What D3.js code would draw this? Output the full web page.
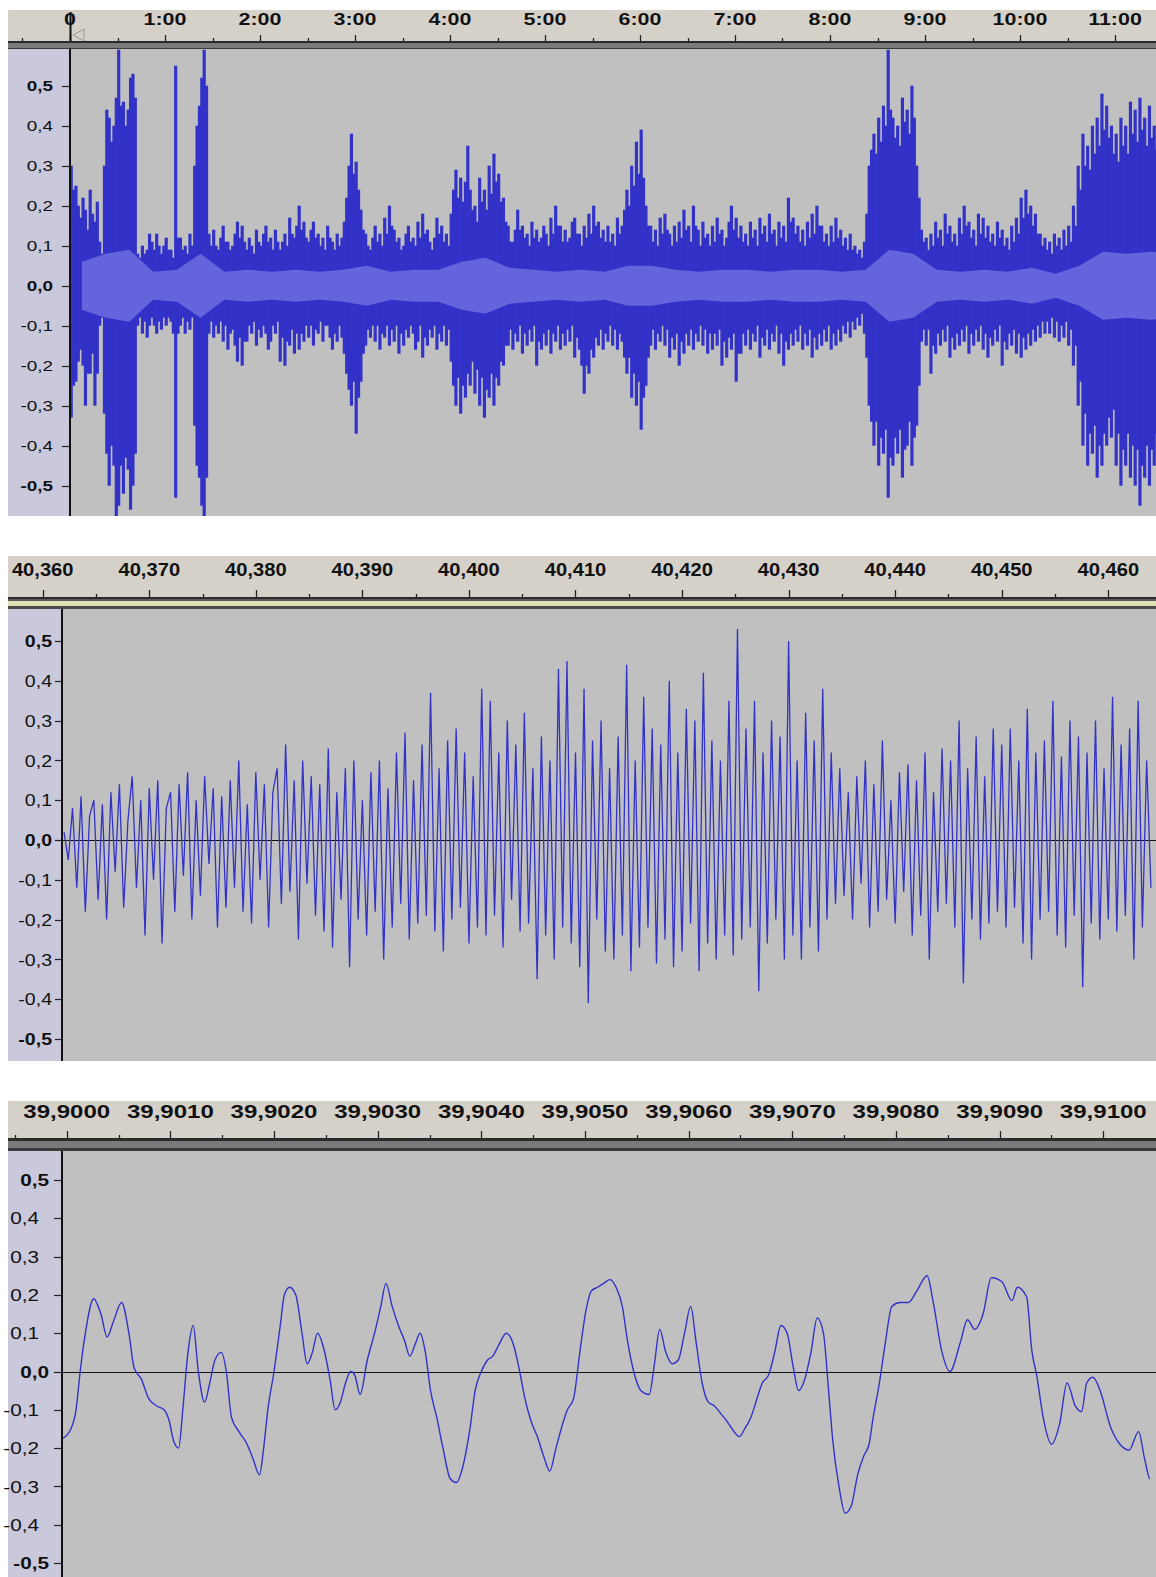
<!DOCTYPE html>
<html><head><meta charset="utf-8">
<script src="https://cdn.jsdelivr.net/npm/d3@7"></script>
<style>body{margin:0;background:#fff}svg{display:block}</style>
</head><body>
<svg id="c" width="1156" height="1577"></svg>
<script>
// ---------------- DATA ----------------
const yTickValues = [0.5,0.4,0.3,0.2,0.1,0,-0.1,-0.2,-0.3,-0.4,-0.5];
const yTickLabels = ["0,5","0,4","0,3","0,2","0,1","0,0","-0,1","-0,2","-0,3","-0,4","-0,5"];
const yBoldLabels = ["0,5","0,0","-0,5"];

// Panel 1 : whole recording, time in seconds; peak envelope per 1.5 s bucket
const p1TickSeconds = [0,60,120,180,240,300,360,420,480,540,600,660];
const p1TickLabels = ["0","1:00","2:00","3:00","4:00","5:00","6:00","7:00","8:00","9:00","10:00","11:00"];
const p1BucketSeconds = 1.5;
const p1Max = [
0.30,0.24,0.25,0.20,0.17,0.22,0.19,0.14,0.24,0.18,0.16,0.21,0.11,0.08,0.30,0.44,0.42,0.36,0.40,0.47,
0.59,0.45,0.46,0.40,0.44,0.52,0.53,0.47,0.08,0.07,0.10,0.08,0.09,0.13,0.11,0.09,0.13,0.10,0.08,0.10,
0.12,0.09,0.09,0.07,0.55,0.12,0.12,0.09,0.10,0.08,0.13,0.10,0.30,0.40,0.45,0.52,0.59,0.50,0.13,0.10,
0.14,0.10,0.09,0.12,0.15,0.11,0.11,0.09,0.10,0.13,0.16,0.12,0.15,0.11,0.09,0.12,0.10,0.08,0.14,0.11,
0.10,0.13,0.15,0.11,0.12,0.09,0.14,0.11,0.09,0.11,0.13,0.10,0.17,0.13,0.12,0.15,0.20,0.14,0.16,0.12,
0.11,0.14,0.16,0.12,0.13,0.10,0.12,0.09,0.15,0.12,0.11,0.09,0.13,0.10,0.12,0.16,0.22,0.30,0.38,0.28,
0.31,0.24,0.19,0.14,0.13,0.10,0.09,0.12,0.15,0.11,0.13,0.10,0.17,0.13,0.20,0.15,0.14,0.11,0.12,0.09,
0.10,0.13,0.15,0.11,0.12,0.10,0.16,0.12,0.18,0.13,0.14,0.11,0.09,0.12,0.17,0.13,0.15,0.11,0.13,0.10,
0.18,0.24,0.29,0.22,0.27,0.21,0.26,0.35,0.24,0.19,0.20,0.16,0.27,0.21,0.24,0.19,0.30,0.23,0.33,0.26,
0.28,0.21,0.22,0.16,0.15,0.11,0.11,0.14,0.19,0.14,0.15,0.12,0.13,0.10,0.16,0.12,0.14,0.11,0.12,0.15,
0.13,0.10,0.17,0.13,0.20,0.15,0.15,0.11,0.14,0.11,0.12,0.16,0.17,0.13,0.13,0.10,0.15,0.12,0.18,0.13,
0.20,0.15,0.16,0.12,0.14,0.11,0.15,0.11,0.13,0.10,0.17,0.13,0.15,0.19,0.24,0.20,0.30,0.25,0.36,0.28,
0.39,0.27,0.20,0.15,0.15,0.11,0.14,0.10,0.17,0.13,0.18,0.14,0.13,0.10,0.15,0.11,0.16,0.12,0.19,0.14,
0.15,0.11,0.20,0.15,0.14,0.10,0.16,0.12,0.13,0.10,0.15,0.11,0.17,0.13,0.14,0.10,0.12,0.16,0.20,0.14,
0.17,0.12,0.15,0.11,0.13,0.10,0.16,0.12,0.14,0.10,0.17,0.13,0.15,0.11,0.18,0.13,0.14,0.10,0.16,0.12,
0.15,0.11,0.22,0.16,0.17,0.13,0.15,0.11,0.14,0.10,0.16,0.12,0.18,0.13,0.20,0.15,0.15,0.11,0.13,0.10,
0.15,0.11,0.17,0.12,0.14,0.10,0.12,0.09,0.13,0.09,0.10,0.08,0.09,0.07,0.11,0.18,0.30,0.34,0.38,0.33,
0.42,0.36,0.45,0.40,0.59,0.44,0.42,0.37,0.40,0.35,0.47,0.41,0.44,0.38,0.50,0.42,0.30,0.22,0.14,0.11,
0.12,0.09,0.13,0.10,0.16,0.12,0.14,0.10,0.18,0.13,0.15,0.11,0.13,0.10,0.17,0.13,0.20,0.15,0.16,0.12,
0.14,0.10,0.18,0.13,0.17,0.12,0.15,0.11,0.13,0.10,0.16,0.12,0.14,0.10,0.12,0.09,0.15,0.11,0.17,0.13,
0.22,0.17,0.24,0.18,0.20,0.15,0.18,0.13,0.13,0.10,0.12,0.09,0.11,0.08,0.13,0.10,0.12,0.09,0.14,0.10,
0.15,0.11,0.20,0.15,0.30,0.24,0.38,0.30,0.35,0.29,0.40,0.33,0.42,0.35,0.48,0.39,0.45,0.37,0.40,0.33,
0.38,0.31,0.42,0.35,0.40,0.33,0.46,0.38,0.44,0.36,0.47,0.39,0.42,0.35,0.45,0.37,0.40,0.34];
const p1Min = [
-0.33,-0.25,-0.24,-0.19,-0.16,-0.20,-0.30,-0.22,-0.22,-0.17,-0.30,-0.22,-0.10,-0.08,-0.32,-0.42,-0.50,-0.40,-0.45,-0.58,
-0.55,-0.45,-0.52,-0.43,-0.46,-0.56,-0.50,-0.42,-0.10,-0.08,-0.12,-0.09,-0.13,-0.10,-0.08,-0.10,-0.12,-0.09,-0.11,-0.08,
-0.10,-0.08,-0.09,-0.12,-0.53,-0.12,-0.10,-0.08,-0.12,-0.09,-0.11,-0.08,-0.35,-0.45,-0.48,-0.55,-0.58,-0.48,-0.12,-0.09,
-0.13,-0.10,-0.12,-0.09,-0.14,-0.10,-0.16,-0.12,-0.11,-0.15,-0.19,-0.13,-0.20,-0.14,-0.14,-0.10,-0.12,-0.09,-0.15,-0.11,
-0.13,-0.10,-0.12,-0.16,-0.14,-0.10,-0.12,-0.09,-0.19,-0.13,-0.20,-0.14,-0.15,-0.11,-0.17,-0.12,-0.16,-0.12,-0.14,-0.10,
-0.13,-0.10,-0.15,-0.11,-0.12,-0.09,-0.14,-0.10,-0.10,-0.13,-0.16,-0.12,-0.14,-0.10,-0.13,-0.17,-0.22,-0.26,-0.30,-0.24,
-0.37,-0.28,-0.24,-0.17,-0.15,-0.11,-0.13,-0.10,-0.14,-0.10,-0.16,-0.12,-0.13,-0.10,-0.15,-0.11,-0.14,-0.10,-0.17,-0.12,
-0.15,-0.11,-0.13,-0.10,-0.12,-0.16,-0.14,-0.10,-0.18,-0.13,-0.15,-0.11,-0.13,-0.10,-0.16,-0.12,-0.14,-0.10,-0.15,-0.11,
-0.19,-0.25,-0.30,-0.23,-0.32,-0.25,-0.28,-0.22,-0.25,-0.19,-0.27,-0.21,-0.30,-0.23,-0.33,-0.26,-0.28,-0.22,-0.30,-0.23,
-0.25,-0.19,-0.20,-0.15,-0.15,-0.11,-0.16,-0.12,-0.14,-0.10,-0.17,-0.12,-0.15,-0.11,-0.14,-0.10,-0.20,-0.14,-0.16,-0.12,
-0.15,-0.11,-0.17,-0.12,-0.14,-0.10,-0.16,-0.12,-0.15,-0.11,-0.14,-0.10,-0.18,-0.13,-0.16,-0.20,-0.27,-0.20,-0.22,-0.16,
-0.18,-0.13,-0.15,-0.11,-0.16,-0.12,-0.14,-0.10,-0.15,-0.11,-0.16,-0.12,-0.14,-0.18,-0.22,-0.18,-0.28,-0.22,-0.30,-0.24,
-0.36,-0.28,-0.25,-0.18,-0.15,-0.11,-0.16,-0.12,-0.14,-0.10,-0.15,-0.11,-0.18,-0.13,-0.16,-0.12,-0.20,-0.14,-0.17,-0.12,
-0.15,-0.11,-0.16,-0.12,-0.14,-0.10,-0.15,-0.11,-0.17,-0.12,-0.16,-0.12,-0.15,-0.11,-0.20,-0.14,-0.18,-0.13,-0.16,-0.12,
-0.24,-0.17,-0.17,-0.12,-0.15,-0.11,-0.16,-0.12,-0.14,-0.10,-0.18,-0.13,-0.15,-0.11,-0.16,-0.12,-0.14,-0.10,-0.17,-0.12,
-0.20,-0.14,-0.16,-0.12,-0.15,-0.11,-0.14,-0.10,-0.16,-0.12,-0.15,-0.11,-0.18,-0.13,-0.16,-0.12,-0.15,-0.11,-0.14,-0.10,
-0.16,-0.12,-0.15,-0.11,-0.14,-0.10,-0.12,-0.09,-0.13,-0.09,-0.11,-0.08,-0.10,-0.07,-0.12,-0.18,-0.30,-0.34,-0.40,-0.34,
-0.45,-0.38,-0.42,-0.36,-0.53,-0.43,-0.45,-0.38,-0.42,-0.36,-0.48,-0.41,-0.40,-0.34,-0.45,-0.38,-0.35,-0.25,-0.14,-0.11,
-0.15,-0.11,-0.22,-0.15,-0.17,-0.12,-0.15,-0.11,-0.14,-0.10,-0.18,-0.13,-0.16,-0.12,-0.15,-0.11,-0.14,-0.10,-0.17,-0.12,
-0.15,-0.11,-0.14,-0.10,-0.16,-0.12,-0.18,-0.13,-0.15,-0.11,-0.14,-0.10,-0.20,-0.14,-0.16,-0.12,-0.15,-0.11,-0.17,-0.12,
-0.18,-0.13,-0.16,-0.12,-0.15,-0.11,-0.14,-0.10,-0.13,-0.09,-0.12,-0.09,-0.12,-0.08,-0.13,-0.09,-0.14,-0.10,-0.13,-0.09,
-0.15,-0.11,-0.20,-0.15,-0.30,-0.24,-0.40,-0.32,-0.45,-0.37,-0.42,-0.35,-0.48,-0.40,-0.45,-0.37,-0.40,-0.33,-0.38,-0.31,
-0.45,-0.37,-0.50,-0.41,-0.45,-0.37,-0.48,-0.40,-0.50,-0.41,-0.55,-0.45,-0.48,-0.40,-0.50,-0.41,-0.45,-0.37];
const p1RmsBucketSeconds = 15;
const p1Rms = [0.06,0.08,0.09,0.035,0.04,0.08,0.035,0.04,0.035,0.04,0.035,0.04,0.05,0.035,0.04,0.04,
0.06,0.07,0.045,0.04,0.035,0.04,0.035,0.05,0.05,0.04,0.035,0.04,0.04,0.035,0.04,0.04,0.035,
0.04,0.09,0.08,0.04,0.035,0.04,0.035,0.045,0.03,0.05,0.085,0.08,0.085,0.08];

// Panel 2 : ~0.1 s zoom, time in seconds
const p2TickTimes = [40.36,40.37,40.38,40.39,40.40,40.41,40.42,40.43,40.44,40.45,40.46];
const p2TickLabels = ["40,360","40,370","40,380","40,390","40,400","40,410","40,420","40,430","40,440","40,450","40,460"];
const p2StartTime = 40.362;
const p2SampleStep = 0.0004;
const p2Values = [
0.02,-0.05,0.08,-0.12,0.11,-0.18,0.06,0.10,-0.15,0.09,
-0.20,0.12,-0.08,0.14,-0.17,0.05,0.16,-0.12,0.10,-0.24,
0.13,-0.10,0.15,-0.26,0.08,0.12,-0.18,0.14,-0.09,0.17,
-0.20,0.10,-0.14,0.16,-0.06,0.13,-0.22,0.11,-0.17,0.15,
-0.12,0.20,-0.18,0.09,-0.21,0.17,-0.10,0.14,-0.22,0.12,
0.18,-0.16,0.24,-0.13,0.15,-0.25,0.20,-0.11,0.16,-0.19,
0.14,-0.23,0.23,-0.27,0.12,-0.15,0.18,-0.32,0.20,-0.20,
0.10,-0.24,0.17,-0.18,0.20,-0.30,0.13,-0.22,0.22,-0.16,
0.27,-0.25,0.15,-0.21,0.24,-0.19,0.37,-0.23,0.18,-0.28,
0.25,-0.20,0.28,-0.17,0.22,-0.26,0.16,-0.22,0.38,-0.24,
0.35,-0.19,0.22,-0.27,0.30,-0.15,0.24,-0.23,0.32,-0.21,
0.18,-0.35,0.26,-0.24,0.20,-0.30,0.43,-0.22,0.45,-0.26,
0.22,-0.32,0.38,-0.41,0.25,-0.20,0.30,-0.28,0.18,-0.30,
0.26,-0.24,0.44,-0.33,0.20,-0.27,0.36,-0.22,0.28,-0.31,
0.24,-0.25,0.40,-0.32,0.22,-0.28,0.33,-0.21,0.30,-0.33,
0.42,-0.26,0.25,-0.30,0.20,-0.24,0.35,-0.29,0.53,-0.25,
0.28,-0.22,0.35,-0.38,0.22,-0.26,0.30,-0.20,0.26,-0.30,
0.50,-0.24,0.20,-0.30,0.32,-0.22,0.25,-0.28,0.38,-0.20,
0.22,-0.16,0.18,-0.14,0.12,-0.20,0.16,-0.11,0.20,-0.22,
0.14,-0.18,0.25,-0.15,0.10,-0.21,0.17,-0.13,0.19,-0.24,
0.15,-0.19,0.22,-0.30,0.12,-0.18,0.23,-0.16,0.20,-0.22,
0.30,-0.36,0.18,-0.20,0.26,-0.25,0.16,-0.21,0.28,-0.18,
0.24,-0.22,0.28,-0.17,0.20,-0.26,0.33,-0.30,0.22,-0.20,
0.25,-0.18,0.35,-0.24,0.21,-0.27,0.30,-0.19,0.26,-0.37,
0.22,-0.21,0.30,-0.25,0.18,-0.20,0.36,-0.23,0.24,-0.19,
0.28,-0.30,0.35,-0.22,0.20,-0.12];

// Panel 3 : ~0.01 s zoom; time offset in units of 10 microseconds after 39.9 s
const p3TickTimes = [39.900,39.901,39.902,39.903,39.904,39.905,39.906,39.907,39.908,39.909,39.910];
const p3TickLabels = ["39,9000","39,9010","39,9020","39,9030","39,9040","39,9050","39,9060","39,9070","39,9080","39,9090","39,9100"];
const p3Offset = [-4,4,9,13,18,26,33,39,45,53,60,65,72,79,87,94,99,103,108,112,117,122,127,133,138,143,149,154,159,167,174,180,186,190,194,200,206,210,215,221,227,232,237,242,248,254,259,264,269,274,278,283,290,297,303,308,314,320,326,331,336,341,346,351,357,363,370,376,382,389,394,400,406,411,417,424,431,437,442,448,454,460,466,472,477,483,489,495,501,506,512,518,524,530,536,541,547,554,562,567,572,578,584,590,596,602,607,613,619,625,631,637,642,649,654,660,666,671,677,683,689,695,701,706,712,718,724,730,735,739,745,751,757,763,769,774,778,784,790,796,804,812,820,830,836,844,852,862,869,876,884,892,902,912,917,926,931,936,942,950,958,965,973,979,984,990,997,1007,1016,1025,1034,1040,1045];
const p3Values = [-0.175,-0.15,-0.10,0.0,0.10,0.19,0.15,0.09,0.13,0.18,0.10,0.01,-0.02,-0.07,-0.09,-0.10,-0.13,-0.18,-0.20,-0.10,0.05,0.12,0.0,-0.08,-0.03,0.03,0.05,0.0,-0.12,-0.16,-0.19,-0.23,-0.27,-0.20,-0.10,0.0,0.12,0.20,0.22,0.20,0.10,0.02,0.05,0.10,0.06,-0.02,-0.10,-0.08,-0.03,0.0,-0.01,-0.06,0.03,0.10,0.17,0.23,0.17,0.12,0.08,0.04,0.07,0.10,0.05,-0.05,-0.12,-0.20,-0.28,-0.29,-0.25,-0.15,-0.05,0.0,0.03,0.04,0.07,0.10,0.07,0.0,-0.07,-0.13,-0.17,-0.22,-0.26,-0.20,-0.15,-0.10,-0.07,0.05,0.16,0.21,0.22,0.23,0.24,0.22,0.17,0.08,0.0,-0.05,-0.06,0.02,0.11,0.05,0.02,0.03,0.10,0.17,0.08,-0.03,-0.08,-0.09,-0.11,-0.13,-0.15,-0.17,-0.15,-0.12,-0.07,-0.03,-0.01,0.05,0.12,0.10,0.01,-0.05,-0.02,0.05,0.14,0.10,-0.05,-0.18,-0.30,-0.37,-0.35,-0.27,-0.22,-0.19,-0.12,-0.03,0.08,0.17,0.18,0.18,0.21,0.25,0.18,0.055,0.0,0.075,0.135,0.11,0.15,0.245,0.235,0.185,0.22,0.195,0.056,-0.014,-0.12,-0.19,-0.135,-0.03,-0.09,-0.105,-0.03,-0.015,-0.05,-0.145,-0.19,-0.205,-0.157,-0.23,-0.28,-0.21];

// ---------------- DRAWING ----------------
const svg = d3.select("#c");
const FONT = "'Liberation Sans', Arial, sans-serif";
const BLUE = "#3232c8", RMS = "#6464dc", PLOT_BG = "#c0c0c0", LABEL_BG = "#c9c9db", RULER_BG = "#d5d1c9";

function drawPanel(cfg) {
  const g = svg.append("g");
  g.append("rect").attr("x", 8).attr("y", cfg.rulerY0).attr("width", 1148).attr("height", cfg.rulerY1 - cfg.rulerY0).attr("fill", RULER_BG);
  cfg.bands.forEach(b => g.append("rect").attr("x", 8).attr("y", b[0]).attr("width", 1148).attr("height", b[1] - b[0]).attr("fill", b[2]));
  g.append("rect").attr("x", 8).attr("y", cfg.plotY0).attr("width", cfg.axisX - 8).attr("height", cfg.plotY1 - cfg.plotY0).attr("fill", LABEL_BG);
  g.append("rect").attr("x", cfg.axisX).attr("y", cfg.plotY0).attr("width", 1156 - cfg.axisX).attr("height", cfg.plotY1 - cfg.plotY0).attr("fill", PLOT_BG);

  const x = cfg.x;
  cfg.minor.forEach(t => {
    const px = Math.round(x(t)) + 0.5;
    if (px < 9 || px > 1155) return;
    g.append("line").attr("x1", px).attr("x2", px).attr("y1", cfg.rulerY1 - cfg.minorLen).attr("y2", cfg.rulerY1).attr("stroke", "#222").attr("stroke-width", 1.3);
  });
  cfg.ticks.forEach((t, i) => {
    const px = Math.round(x(t)) + 0.5;
    g.append("line").attr("x1", px).attr("x2", px).attr("y1", cfg.rulerY1 - cfg.majorLen).attr("y2", cfg.rulerY1).attr("stroke", "#222").attr("stroke-width", 1.3);
    g.append("text").attr("transform", `translate(${x(t)},${cfg.labelBaseline}) scale(${cfg.sx},1)`)
      .attr("text-anchor", "middle").attr("font-family", FONT).attr("font-weight", "bold")
      .attr("font-size", cfg.fontSize).attr("fill", "#111").text(cfg.tickLabels[i]);
  });

  const y = cfg.y;
  yTickValues.forEach((v, i) => {
    const py = Math.round(y(v)) + 0.5;
    g.append("line").attr("x1", cfg.axisX - cfg.yTickLen).attr("x2", cfg.axisX).attr("y1", py).attr("y2", py).attr("stroke", "#222").attr("stroke-width", 1.2);
    const lab = yTickLabels[i];
    const bold = yBoldLabels.includes(lab);
    g.append("text").attr("transform", `translate(${bold ? cfg.yLabelRight : cfg.yLabelRightNormal},${y(v) + cfg.yFont * 0.36}) scale(${cfg.ysx},1)`)
      .attr("text-anchor", "end").attr("font-family", FONT)
      .attr("font-weight", bold ? "bold" : "normal")
      .attr("font-size", cfg.yFont).attr("fill", "#111").text(lab);
  });

  const clipId = "clip" + cfg.id;
  svg.append("clipPath").attr("id", clipId).append("rect")
    .attr("x", cfg.axisX + 2).attr("y", cfg.plotY0).attr("width", 1156 - cfg.axisX - 2).attr("height", cfg.plotY1 - cfg.plotY0);
  const plot = g.append("g").attr("clip-path", `url(#${clipId})`);
  cfg.drawData(plot, x, y);

  g.append("rect").attr("x", cfg.axisX).attr("y", cfg.plotY0).attr("width", 2).attr("height", cfg.plotY1 - cfg.plotY0).attr("fill", "#111");
  return g;
}

// Panel 1
const x1 = d3.scaleLinear().domain([0, 660]).range([70, 1115]);
const y1 = d3.scaleLinear().domain([-0.5, 0.5]).range([485.7, 85.7]);
drawPanel({
  id: 1, rulerY0: 10, rulerY1: 41,
  bands: [[41, 43, "#2a2a2a"], [43, 48, "#7a7a7a"], [48, 49, "#3a3a3a"]],
  plotY0: 49, plotY1: 516, axisX: 69, x: x1, y: y1,
  ticks: p1TickSeconds, tickLabels: p1TickLabels, minor: d3.range(-30, 720, 60), majorLen: 6, minorLen: 3,
  labelBaseline: 25, fontSize: 16.5, sx: 1.3,
  yLabelRight: 53, yLabelRightNormal: 53, yFont: 14, ysx: 1.35, yTickLen: 7,
  drawData: (plot, x, y) => {
    // main body: solid band between the smaller neighbouring peaks, to avoid seams
    plot.selectAll("rect.mm").data(p1Max).join("rect").attr("class", "mm")
      .attr("x", (d, i) => x(i * p1BucketSeconds) - 0.4)
      .attr("width", (d, i) => x((i + 1) * p1BucketSeconds) - x(i * p1BucketSeconds) + 0.8)
      .attr("y", d => y(d))
      .attr("height", (d, i) => y(p1Min[i]) - y(d))
      .attr("fill", BLUE);
    const rms = d3.area().curve(d3.curveLinear)
      .x((d, i) => x((i + 0.5) * p1RmsBucketSeconds))
      .y0(d => y(-d)).y1(d => y(d));
    plot.append("path").datum(p1Rms).attr("d", rms).attr("fill", RMS);
  }
});
svg.append("line").attr("x1", 70.5).attr("x2", 70.5).attr("y1", 12).attr("y2", 41).attr("stroke", "#111").attr("stroke-width", 2);
svg.append("path").attr("d", "M84,29 L73,35 L84,41 Z").attr("fill", "none").attr("stroke", "#9a9a9a").attr("stroke-width", 1);

// Panel 2
const x2 = d3.scaleLinear().domain([40.36, 40.46]).range([42.7, 1108.3]);
const y2 = d3.scaleLinear().domain([-0.5, 0.5]).range([1039, 641]);
drawPanel({
  id: 2, rulerY0: 556, rulerY1: 597,
  bands: [[597, 599, "#2a2a2a"], [599, 601, "#5a5a5a"], [601, 606, "#e0dfb6"], [606, 609, "#4a4a4a"]],
  plotY0: 609, plotY1: 1061, axisX: 61, x: x2, y: y2,
  ticks: p2TickTimes, tickLabels: p2TickLabels, minor: d3.range(40.355, 40.47, 0.01), majorLen: 7, minorLen: 3,
  labelBaseline: 576, fontSize: 18, sx: 1.12,
  yLabelRight: 52, yLabelRightNormal: 52, yFont: 17, ysx: 1.15, yTickLen: 6,
  drawData: (plot, x, y) => {
    plot.append("line").attr("x1", 63).attr("x2", 1156).attr("y1", Math.round(y(0)) + 0.5).attr("y2", Math.round(y(0)) + 0.5).attr("stroke", "#111").attr("stroke-width", 1.2);
    const line = d3.line().x((d, i) => x(p2StartTime + i * p2SampleStep)).y(d => y(d));
    plot.append("path").datum(p2Values).attr("d", line).attr("fill", "none").attr("stroke", BLUE).attr("stroke-width", 1.3);
  }
});

// Panel 3
const x3 = d3.scaleLinear().domain([39.9, 39.91]).range([66.7, 1103.3]);
const y3 = d3.scaleLinear().domain([-0.5, 0.5]).range([1563, 1180]);
drawPanel({
  id: 3, rulerY0: 1101, rulerY1: 1138,
  bands: [[1138, 1141, "#2a2a2a"], [1141, 1148, "#7a7a7a"], [1148, 1151, "#3a3a3a"]],
  plotY0: 1151, plotY1: 1577, axisX: 61, x: x3, y: y3,
  ticks: p3TickTimes, tickLabels: p3TickLabels, minor: d3.range(39.8995, 39.911, 0.001), majorLen: 7, minorLen: 3,
  labelBaseline: 1118, fontSize: 18.5, sx: 1.3,
  yLabelRight: 49, yLabelRightNormal: 39, yFont: 17, ysx: 1.22, yTickLen: 7,
  drawData: (plot, x, y) => {
    plot.append("line").attr("x1", 63).attr("x2", 1156).attr("y1", Math.round(y(0)) + 0.5).attr("y2", Math.round(y(0)) + 0.5).attr("stroke", "#111").attr("stroke-width", 1.2);
    const line = d3.line().curve(d3.curveMonotoneX).x((d, i) => x(39.9 + p3Offset[i] * 1e-5)).y(d => y(d));
    plot.append("path").datum(p3Values).attr("d", line).attr("fill", "none").attr("stroke", BLUE).attr("stroke-width", 1.4);
  }
});
</script>
</body></html>
